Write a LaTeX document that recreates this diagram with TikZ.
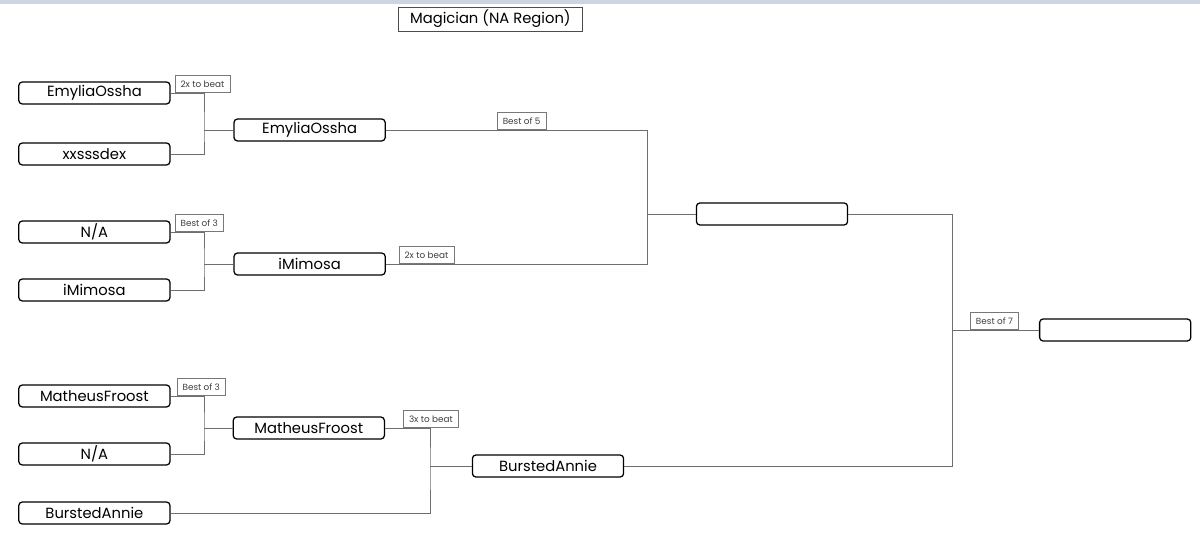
\documentclass[tikz,border=0pt]{standalone}
\usepackage{fontspec}
\setmainfont{Poppins}
\usepackage{xcolor}
\definecolor{brline}{RGB}{110,110,110}
\definecolor{brtag}{RGB}{120,120,120}
\definecolor{brbar}{RGB}{205,212,226}
\usepackage{tikz}
\usetikzlibrary{positioning, calc}

\begin{document}
\begin{tikzpicture}[
    player/.style={draw=black, line width=0.9pt, rounded corners=2.5pt, fill=white,
                   minimum width=3.78cm, minimum height=0.55cm, inner sep=0pt,
                   font=\fontsize{10.5}{12}\selectfont},
    tag/.style={draw=brtag, line width=0.5pt, fill=white, inner xsep=4pt, inner ysep=2pt,
                minimum height=0.42cm, text=black!75, font=\fontsize{6.3}{7}\selectfont},
    conn/.style={draw=brline, line width=0.6pt}
  ]
  \useasboundingbox (0,0) rectangle (30,13.45);
  % top strip
  \fill[brbar] (0,13.35) rectangle (30,13.45);

  % title
  \node[draw=black!70, line width=0.5pt, minimum width=4.62cm, minimum height=0.6cm,
        inner sep=0pt, font=\fontsize{10.5}{12}\selectfont] (title) at (12.26,12.975)
       {Magician (NA Region)};

  % first round
  \node[player] (e1)  at (2.36,11.125) {EmyliaOssha};
  \node[player] (x1)  at (2.36,9.6)    {xxsssdex};
  \node[player] (na1) at (2.36,7.65)   {N/A};
  \node[player] (im1) at (2.36,6.2)    {iMimosa};
  \node[player] (mf1) at (2.36,3.55)   {MatheusFroost};
  \node[player] (na2) at (2.36,2.1)    {N/A};
  \node[player] (ba1) at (2.36,0.625)  {BurstedAnnie};

  % second round
  \node[player] (e2)  at (7.74,10.2)  {EmyliaOssha};
  \node[player] (im2) at (7.74,6.85)  {iMimosa};
  \node[player] (mf2) at (7.72,2.75)  {MatheusFroost};
  \node[player] (ba2) at (13.7,1.8)   {BurstedAnnie};

  % semi and final
  \node[player] (sf)  at (19.3,8.1)   {};
  \node[player] (fin) at (27.88,5.2)  {};

  % bracket joints
  \coordinate (j1) at (5.1,10.2);
  \coordinate (j2) at (5.1,6.85);
  \coordinate (j3) at (5.1,2.75);
  \coordinate (j4) at (10.75,1.8);
  \coordinate (j5) at (16.18,8.1);
  \coordinate (j6) at (23.8,5.2);

  \draw[conn] (e1.east) -| (j1) |- (x1.east);
  \draw[conn] (j1) -- (e2.west);
  \draw[conn] (na1.east) -| (j2) |- (im1.east);
  \draw[conn] (j2) -- (im2.west);
  \draw[conn] (mf1.east) -| (j3) |- (na2.east);
  \draw[conn] (j3) -- (mf2.west);
  \draw[conn] (mf2.east) -| (j4) |- (ba1.east);
  \draw[conn] (j4) -- (ba2.west);
  \draw[conn] (e2.east) -| (j5) |- (im2.east);
  \draw[conn] (j5) -- (sf.west);
  \draw[conn] (sf.east) -| (j6) |- (ba2.east);
  \draw[conn] (j6) -- (fin.west);

  % match formats
  \node[tag, above right=0cm and 0.1cm of e1.east]   (t1) {2x to beat};
  \node[tag, above right=0cm and 0.1cm of na1.east]  (t2) {Best of 3};
  \node[tag, above right=0cm and 0.15cm of mf1.east] (t3) {Best of 3};
  \node[tag, above right=0cm and 0.32cm of im2.east] (t4) {2x to beat};
  \node[tag, above right=0cm and 0.45cm of mf2.east] (t5) {3x to beat};
  \node[tag, anchor=south] (t6) at (13.04,10.2) {Best of 5};
  \node[tag, above right=0cm and 0.45cm of j6]       (t7) {Best of 7};
\end{tikzpicture}
\end{document}
